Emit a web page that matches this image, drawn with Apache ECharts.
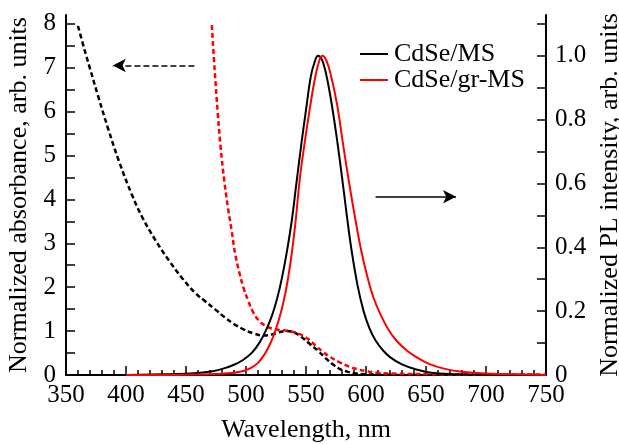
<!DOCTYPE html>
<html lang="en">
<head>
  <meta charset="UTF-8">
  <title>CdSe absorbance / PL</title>
  <script src="https://cdn.jsdelivr.net/npm/echarts@6/dist/echarts.min.js"></script>
  <style>
    html, body { margin: 0; padding: 0; background: #fff; }
    #main { width: 619px; height: 444px; }
  </style>
</head>
<body>
  <div id="main"></div>
  <script>
    // absorbance, CdSe/MS (black dashed, left axis)
    var absMsWl  = [360, 365, 370, 377, 385, 394, 405, 414, 425, 436, 447, 458, 466, 474, 482, 490, 498, 506, 514, 521, 527, 534, 540, 546, 553, 560, 566, 572, 578, 584, 590, 600, 620, 650];
    var absMsVal = [7.95, 7.45, 6.98, 6.33, 5.62, 4.88, 4.1, 3.57, 3.05, 2.6, 2.2, 1.86, 1.68, 1.5, 1.32, 1.16, 1.04, 0.95, 0.9, 0.92, 0.97, 1.0, 0.97, 0.87, 0.71, 0.55, 0.39, 0.25, 0.14, 0.08, 0.04, 0.015, 0.005, 0];
    // absorbance, CdSe/gr-MS (red dashed, left axis)
    var absGrWl  = [471.5, 474, 476.5, 479, 482, 485, 488, 491, 494.5, 498, 502, 506, 511, 517, 523, 530, 536, 542, 548, 553, 558, 564, 570, 578, 586, 593, 600, 609, 625, 650, 700, 750];
    var absGrVal = [7.97, 6.9, 5.95, 5.15, 4.4, 3.8, 3.3, 2.75, 2.33, 1.98, 1.68, 1.43, 1.23, 1.11, 1.05, 1.02, 1.0, 0.96, 0.89, 0.79, 0.67, 0.53, 0.41, 0.29, 0.19, 0.13, 0.09, 0.05, 0.03, 0.02, 0.01, 0.01];
    // PL, CdSe/MS (black solid, right axis)
    var plMsWl  = [400, 430, 450, 462, 472, 481, 490, 497.5, 505, 511.5, 517, 522, 526, 530, 534, 538, 542, 546, 550, 554, 557, 560, 563, 566, 570, 575, 580, 584, 588, 593, 598, 603, 608, 614, 620, 630, 642, 653, 670, 700, 750];
    var plMsVal = [0, 0.002, 0.004, 0.007, 0.012, 0.02, 0.032, 0.047, 0.07, 0.103, 0.143, 0.19, 0.24, 0.305, 0.385, 0.48, 0.6, 0.72, 0.83, 0.935, 0.978, 1.0, 0.99, 0.955, 0.88, 0.76, 0.62, 0.5, 0.39, 0.28, 0.2, 0.145, 0.108, 0.078, 0.056, 0.033, 0.017, 0.008, 0.003, 0.001, 0];
    // PL, CdSe/gr-MS (red solid, right axis)
    var plGrWl  = [400, 450, 480, 495, 503, 510, 516, 521, 525, 529, 533, 537, 541, 545, 549, 553, 557, 560, 563.5, 567, 571, 576, 581, 586, 591, 596, 601, 606, 612, 619, 626, 634, 642, 653, 665, 680, 700, 725, 750];
    var plGrVal = [0, 0.001, 0.004, 0.01, 0.02, 0.038, 0.068, 0.105, 0.145, 0.195, 0.26, 0.35, 0.47, 0.62, 0.73, 0.83, 0.92, 0.97, 1.0, 0.985, 0.935, 0.845, 0.72, 0.6, 0.49, 0.39, 0.31, 0.245, 0.19, 0.14, 0.105, 0.077, 0.056, 0.034, 0.02, 0.01, 0.005, 0.002, 0];

    // axis ticks / labels
    var leftTicks   = [0, 0.5, 1, 1.5, 2, 2.5, 3, 3.5, 4, 4.5, 5, 5.5, 6, 6.5, 7, 7.5, 8];
    var leftLabels  = [0, 1, 2, 3, 4, 5, 6, 7, 8];
    var rightTicks  = [0, 0.1, 0.2, 0.3, 0.4, 0.5, 0.6, 0.7, 0.8, 0.9, 1.0, 1.1];
    var rightLabels = [0, 0.2, 0.4, 0.6, 0.8, 1.0];

    function pairs(xs, ys) {
      var out = [];
      for (var i = 0; i < xs.length; i++) out.push([xs[i], ys[i]]);
      return out;
    }

    var FONT = 'Liberation Serif';
    var chart = echarts.init(document.getElementById('main'));

    var option = {
      animation: false,
      textStyle: { fontFamily: FONT, color: '#000' },
      grid: { left: 66, right: 73, top: 15, bottom: 69, outerBoundsMode: 'none', containLabel: false },
      legend: {
        data: ['CdSe/MS', 'CdSe/gr-MS'],
        orient: 'vertical',
        left: 355, top: 36,
        icon: 'rect', itemWidth: 28, itemHeight: 2, itemGap: 0,
        textStyle: { fontFamily: FONT, fontSize: 26, color: '#000', lineHeight: 22, padding: [0, 0, 0, 1] }
      },
      xAxis: {
        type: 'value', min: 350, max: 750, interval: 50,
        name: 'Wavelength, nm', nameLocation: 'middle', nameGap: 42,
        nameTextStyle: { fontFamily: FONT, fontSize: 26, color: '#000' },
        axisLine: { lineStyle: { color: '#000', width: 2 } },
        axisTick: { inside: true, length: 9, lineStyle: { color: '#000', width: 1.5 } },
        minorTick: { show: true, splitNumber: 5, length: 5, lineStyle: { color: '#000', width: 1.5 } },
        axisLabel: { fontFamily: FONT, fontSize: 25, color: '#000', margin: 8 },
        splitLine: { show: false }
      },
      yAxis: [
        {
          type: 'value', min: 0, max: 8.2, position: 'left',
          name: 'Normalized absorbance, arb. units', nameLocation: 'middle', nameGap: 32, nameRotate: 90,
          nameTextStyle: { fontFamily: FONT, fontSize: 26, color: '#000' },
          axisLine: { show: true, lineStyle: { color: '#000', width: 2 } },
          axisTick: { show: true, inside: true, length: 9, customValues: leftTicks, lineStyle: { color: '#000', width: 1.5 } },
          axisLabel: { fontFamily: FONT, fontSize: 25, color: '#000', margin: 10, customValues: leftLabels },
          splitLine: { show: false }
        },
        {
          type: 'value', min: 0, max: 1.1275, position: 'right',
          name: 'Normalized PL intensity, arb. units', nameLocation: 'middle', nameGap: 46, nameRotate: 90,
          nameTextStyle: { fontFamily: FONT, fontSize: 26, color: '#000' },
          axisLine: { show: true, lineStyle: { color: '#000', width: 2 } },
          axisTick: { show: true, inside: true, length: 9, customValues: rightTicks, lineStyle: { color: '#000', width: 1.5 } },
          axisLabel: {
            fontFamily: FONT, fontSize: 25, color: '#000', margin: 9, customValues: rightLabels,
            formatter: function (v) { return v === 0 ? '0' : v.toFixed(1); }
          },
          splitLine: { show: false }
        }
      ],
      series: [
        {
          name: 'abs CdSe/MS', type: 'line', yAxisIndex: 0, showSymbol: false,
          smooth: 0.4,
          lineStyle: { color: '#000', width: 2.5, type: [5, 3] },
          itemStyle: { color: '#000' },
          data: pairs(absMsWl, absMsVal),
          markLine: {
            silent: true, animation: false,
            symbol: ['none', 'arrow'], symbolSize: [10, 13],
            label: { show: false },
            lineStyle: { color: '#000', width: 1.5, type: [6, 3] },
            data: [[{ coord: [457, 7.05] }, { coord: [389, 7.05] }]]
          }
        },
        {
          name: 'abs CdSe/gr-MS', type: 'line', yAxisIndex: 0, showSymbol: false,
          smooth: 0.4,
          lineStyle: { color: '#ff0000', width: 2.5, type: [5, 3] },
          itemStyle: { color: '#ff0000' },
          data: pairs(absGrWl, absGrVal),
          markLine: {
            silent: true, animation: false,
            symbol: ['none', 'arrow'], symbolSize: [10, 13],
            label: { show: false },
            lineStyle: { color: '#000', width: 1.5, type: 'solid' },
            data: [[{ coord: [608, 4.06] }, { coord: [675, 4.06] }]]
          }
        },
        {
          name: 'CdSe/MS', type: 'line', yAxisIndex: 1, showSymbol: false,
          smooth: 0.4,
          lineStyle: { color: '#000', width: 2 },
          itemStyle: { color: '#000' },
          data: pairs(plMsWl, plMsVal)
        },
        {
          name: 'CdSe/gr-MS', type: 'line', yAxisIndex: 1, showSymbol: false,
          smooth: 0.4,
          lineStyle: { color: '#ff0000', width: 2 },
          itemStyle: { color: '#ff0000' },
          data: pairs(plGrWl, plGrVal)
        }
      ]
    };
    chart.setOption(option);
  </script>
</body>
</html>
